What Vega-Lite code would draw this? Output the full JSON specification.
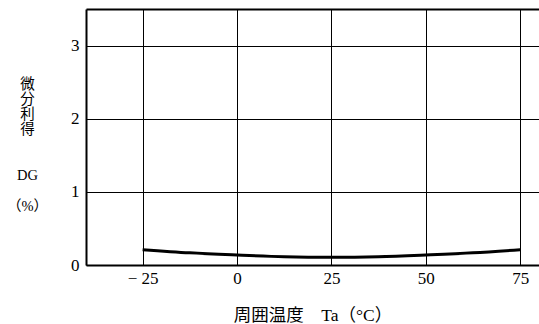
{
  "$schema": "https://vega.github.io/schema/vega-lite/v6.json",
  "width": 453,
  "height": 256,
  "autosize": {"type": "none"},
  "padding": {"left": 86, "top": 9, "right": 0, "bottom": 59},
  "background": "white",
  "config": {"view": {"stroke": null}, "font": "Liberation Serif"},
  "data": {
    "values": [
      {"Ta": -25, "DG": 0.21},
      {"Ta": -12.5, "DG": 0.166},
      {"Ta": 0, "DG": 0.137},
      {"Ta": 12.5, "DG": 0.114},
      {"Ta": 25, "DG": 0.106},
      {"Ta": 37.5, "DG": 0.114},
      {"Ta": 50, "DG": 0.137},
      {"Ta": 62.5, "DG": 0.166},
      {"Ta": 75, "DG": 0.21}
    ]
  },
  "layer": [
    {
      "mark": {"type": "line", "color": "black", "strokeWidth": 3, "interpolate": "monotone"},
      "encoding": {
        "x": {
          "field": "Ta",
          "type": "quantitative",
          "scale": {"domain": [-40, 80], "nice": false, "zero": false},
          "axis": {
            "orient": "bottom",
            "values": [-25, 0, 25, 50, 75],
            "labelExpr": "datum.value < 0 ? '− ' + abs(datum.value) : datum.label",
            "grid": true,
            "gridColor": "black",
            "gridWidth": 1,
            "gridOpacity": 1,
            "ticks": false,
            "domainColor": "black",
            "domainWidth": 2,
            "labelFont": "Liberation Serif",
            "labelFontSize": 17,
            "labelColor": "black",
            "labelPadding": 5,
            "title": "周囲温度　Ta（°C）",
            "titleFont": "Liberation Serif, Noto Sans CJK JP",
            "titleFontSize": 17.5,
            "titleFontWeight": "normal",
            "titleColor": "black",
            "titlePadding": 20
          }
        },
        "y": {
          "field": "DG",
          "type": "quantitative",
          "scale": {"domain": [0, 3.5], "nice": false},
          "axis": {
            "values": [0, 1, 2, 3],
            "format": "d",
            "grid": true,
            "gridColor": "black",
            "gridWidth": 1,
            "gridOpacity": 1,
            "ticks": false,
            "domainColor": "black",
            "domainWidth": 2,
            "labelFont": "Liberation Serif",
            "labelFontSize": 17,
            "labelColor": "black",
            "labelPadding": 7,
            "title": ["微", "分", "利", "得", "\u200b", "\u200b", "DG", "\u200b", "（%）"],
            "titleFont": "Liberation Serif, Noto Sans CJK JP",
            "titleFontSize": 14.5,
            "titleFontWeight": "normal",
            "titleColor": "black",
            "titleLineHeight": 15.3,
            "titleAngle": 0,
            "titleAlign": "center",
            "titleBaseline": "top",
            "titleX": -59,
            "titleY": 68
          }
        }
      }
    },
    {
      "mark": {"type": "line", "opacity": 0},
      "encoding": {
        "x": {
          "field": "Ta",
          "type": "quantitative",
          "axis": {
            "orient": "top",
            "labels": false,
            "ticks": false,
            "grid": false,
            "domainColor": "black",
            "domainWidth": 2,
            "title": null
          }
        },
        "y": {"field": "DG", "type": "quantitative"}
      }
    }
  ],
  "resolve": {"axis": {"x": "independent"}}
}
